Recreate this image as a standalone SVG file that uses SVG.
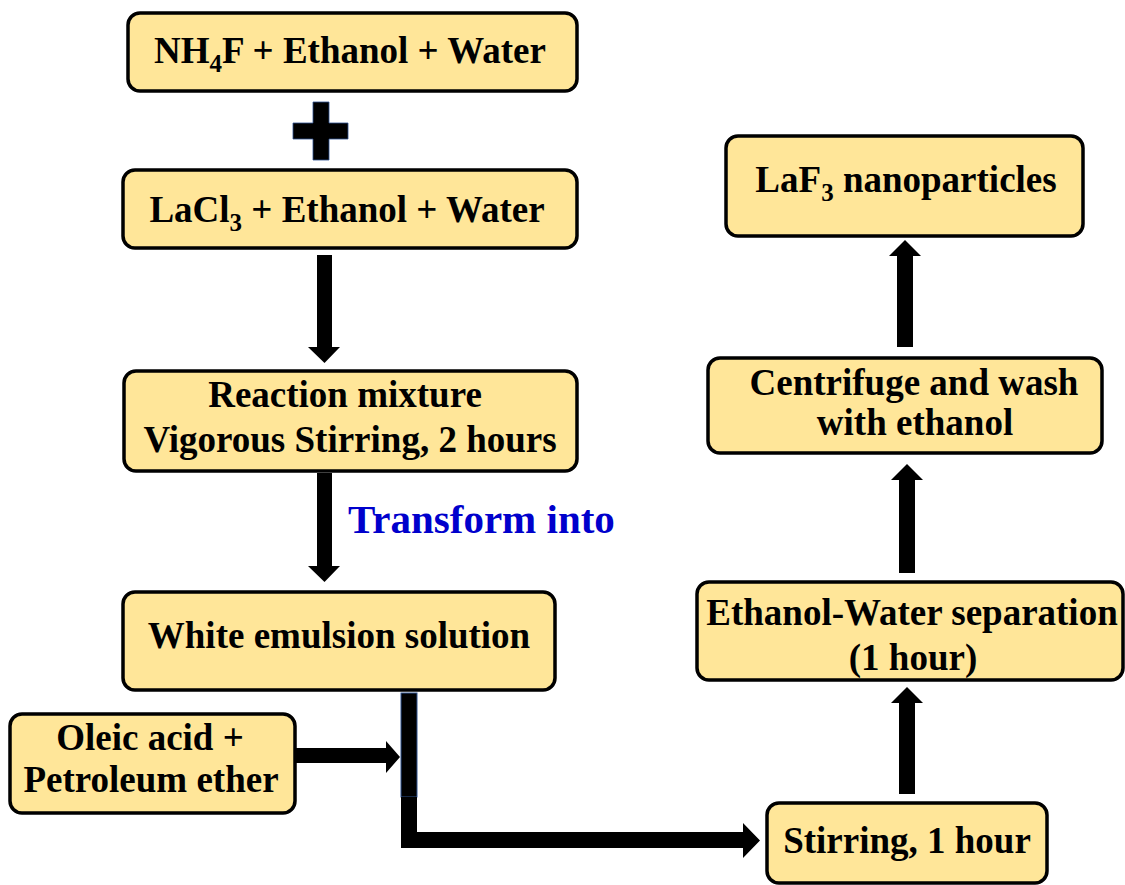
<svg xmlns="http://www.w3.org/2000/svg" width="1125" height="885" viewBox="0 0 1125 885">
<style>
.box{fill:#FFE699;stroke:#000;stroke-width:3.5}
.t{font-family:"Liberation Serif","Times New Roman",serif;font-weight:bold;font-size:37px;fill:#000;text-anchor:middle}
.ar{fill:#000}
.sub{font-size:25px}
</style>
<g id="n1"><rect class="box" x="128" y="13" width="449" height="78" rx="12"/>
<text class="t" x="350" y="63">NH<tspan class="sub" dy="9">4</tspan><tspan dy="-9">F + Ethanol + Water</tspan></text></g>
<g id="plus"><path d="M313,102 H329 V123 H348 V139 H329 V160 H313 V139 H293 V123 H313 Z" fill="#000" stroke="#2F528F" stroke-width="0.8"/></g>
<g id="n2"><rect class="box" x="123" y="170" width="454" height="78" rx="12"/>
<text class="t" x="347" y="222">LaCl<tspan class="sub" dy="9">3</tspan><tspan dy="-9"> + Ethanol + Water</tspan></text></g>
<g id="n3"><rect class="box" x="124" y="371" width="453" height="100" rx="12"/>
<text class="t" x="345" y="407">Reaction mixture</text>
<text class="t" x="350" y="452">Vigorous Stirring, 2 hours</text></g>
<g id="n4"><rect class="box" x="123" y="592" width="432" height="98" rx="12"/>
<text class="t" x="339" y="648">White emulsion solution</text></g>
<g id="n5"><rect class="box" x="10" y="714" width="285" height="99" rx="12"/>
<text class="t" x="150" y="750">Oleic acid +</text>
<text class="t" x="151" y="792">Petroleum ether</text></g>
<g id="n6"><rect class="box" x="767" y="803" width="280" height="80" rx="12"/>
<text class="t" x="907" y="853">Stirring, 1 hour</text></g>
<g id="n7"><rect class="box" x="697" y="582" width="426" height="98" rx="12"/>
<text class="t" x="912" y="625">Ethanol-Water separation</text>
<text class="t" x="913" y="670">(1 hour)</text></g>
<g id="n8"><rect class="box" x="708" y="358" width="394" height="95" rx="12"/>
<text class="t" x="914" y="395">Centrifuge and wash</text>
<text class="t" x="915" y="435">with ethanol</text></g>
<g id="n9"><rect class="box" x="726" y="136" width="357" height="100" rx="12"/>
<text class="t" x="906" y="192">LaF<tspan class="sub" dy="9">3</tspan><tspan dy="-9"> nanoparticles</tspan></text></g>
<g id="label"><text x="348" y="533" font-family="'Liberation Serif','Times New Roman',serif" font-weight="bold" font-size="41" fill="#0000CC">Transform into</text></g>
<g id="connectors">
<path class="ar" d="M317,255 H332 V347 H340 L324.5,363 L308,347 H317 Z"/>
<path class="ar" d="M317,473 H332 V566 H340 L324.5,582 L308,566 H317 Z"/>
<path class="ar" d="M295,748 H386 V741 L400,757 L386,773 V763 H295 Z"/>
<rect x="401" y="693" width="16" height="104" fill="#000" stroke="#2F528F" stroke-width="1"/>
<path class="ar" d="M401,797 H417 V832 H743 V823 L760,840.5 L743,858 V848 H401 Z"/>
<path class="ar" d="M899,794 V703 H891 L907,687 L923,703 H915 V794 Z"/>
<path class="ar" d="M899,573 V480 H891 L907,464 L923,480 H915 V573 Z"/>
<path class="ar" d="M897,347 V256 H889 L905,240 L921,256 H913 V347 Z"/>
</g>
</svg>
